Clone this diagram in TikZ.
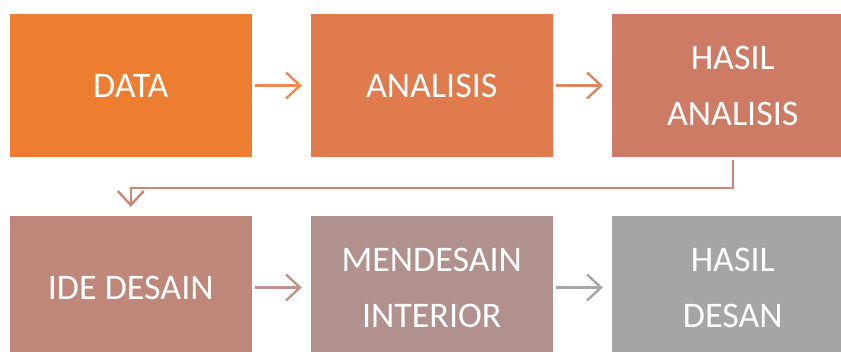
\documentclass[tikz,border=0pt]{standalone}
\usepackage{fontspec}
\setmainfont{Carlito}
\usetikzlibrary{arrows.meta}
\definecolor{c1}{HTML}{ED7D31}
\definecolor{c2}{HTML}{DF7B4D}
\definecolor{c3}{HTML}{CD7B65}
\definecolor{c4}{HTML}{BE877A}
\definecolor{c5}{HTML}{B0918E}
\definecolor{c6}{HTML}{A5A5A5}
\definecolor{a1}{HTML}{EC8A52}
\definecolor{a2}{HTML}{DD8662}
\definecolor{a3}{HTML}{CA8574}
\definecolor{a4}{HTML}{C0928A}
\definecolor{a5}{HTML}{AAA4A4}
\tikzset{
  box/.style={draw=none, minimum width=241.5pt, minimum height=143pt, inner sep=0pt,
    text=white, align=center, font=\fontsize{36}{56}\selectfont},
  flow/.style={line width=2.4pt, -{Straight Barb[length=14pt, width=26pt, line width=2.4pt]}}
}
\begin{document}
\begin{tikzpicture}[x=1pt,y=-1pt]
\useasboundingbox (0,0) rectangle (841,351);
\clip (0,0) rectangle (841,351);
\node[box, fill=c1] (b1) at (130.75,85.5) {DATA};
\node[box, fill=c2] (b2) at (431.75,85.5) {ANALISIS};
\node[box, fill=c3] (b3) at (732.75,85.5) {HASIL\\ANALISIS};
\node[box, fill=c4] (b4) at (130.75,287.5) {IDE DESAIN};
\node[box, fill=c5] (b5) at (431.75,287.5) {MENDESAIN\\INTERIOR};
\node[box, fill=c6] (b6) at (732.75,287.5) {HASIL\\DESAN};
\draw[flow, draw=a1] ([xshift=3pt]b1.east) -- ([xshift=-9pt]b2.west);
\draw[flow, draw=a2] ([xshift=3pt]b2.east) -- ([xshift=-9pt]b3.west);
\draw[flow, draw=a4] ([xshift=3pt]b4.east) -- ([xshift=-9pt]b5.west);
\draw[flow, draw=a5] ([xshift=3pt]b5.east) -- ([xshift=-9pt]b6.west);
\coordinate (k1) at ([yshift=-31pt]b3.south);
\draw[line width=2.4pt, draw=a3, -{Straight Barb[length=14pt, width=26pt, line width=2.4pt]}]
  ([yshift=-3pt]b3.south) -- (k1) -| ([yshift=9pt]b4.north);
\end{tikzpicture}
\end{document}
